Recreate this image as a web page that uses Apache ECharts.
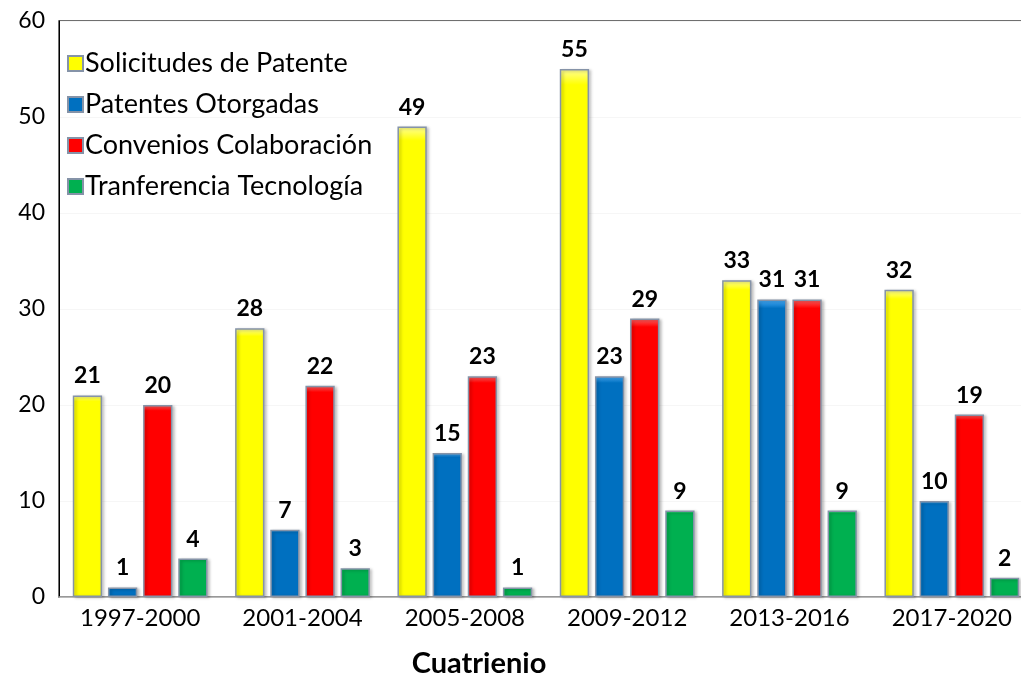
<!DOCTYPE html>
<html>
<head>
<meta charset="utf-8">
<script src="https://cdn.jsdelivr.net/npm/echarts@6/dist/echarts.min.js"></script>
<style>
  html, body { margin: 0; padding: 0; background: #fff; overflow: hidden; }
  #chart { width: 1033px; height: 683px; }
</style>
</head>
<body>
<div id="chart"></div>
<script>
// datos
const cuatrienios = ["1997-2000", "2001-2004", "2005-2008", "2009-2012", "2013-2016", "2017-2020"];
const solicitudes = [21, 28, 49, 55, 33, 32];
const otorgadas = [1, 7, 15, 23, 31, 10];
const convenios = [20, 22, 23, 29, 31, 19];
const transferencia = [4, 3, 1, 9, 9, 2];
const yTicks = [0, 10, 20, 30, 40, 50, 60];

const chart = echarts.init(document.getElementById("chart"));

const barStyle = (top, base) => ({
  color: new echarts.graphic.LinearGradient(0, 0, 0, 1, [
    { offset: 0, color: top },
    { offset: 0.03, color: base },
    { offset: 1, color: base },
  ]),
  borderColor: "#8593a8",
  borderWidth: 1.5,
  shadowColor: "rgba(0,0,0,0.25)",
  shadowBlur: 3,
  shadowOffsetX: 2,
  shadowOffsetY: 1,
});

const makeSeries = (name, data, top, base) => ({
  name: name,
  type: "bar",
  data: data,
  barGap: "20%",
  barCategoryGap: "17%",
  itemStyle: barStyle(top, base),
  label: {
    show: true,
    position: "top",
    distance: 8,
    color: "#000",
    fontFamily: "Lato",
    fontWeight: "bold",
    fontSize: 23,
  },
});

const options = {
  animation: false,
  backgroundColor: "#fff",
  textStyle: { fontFamily: "Lato" },
  title: {
    text: "Cuatrienio",
    left: 474,
    top: 644,
    textAlign: "center",
    textStyle: {
      fontFamily: "Lato",
      fontWeight: "bold",
      fontSize: 29,
      color: "#000",
    },
  },
  legend: {
    orient: "vertical",
    left: 62,
    top: 45,
    itemWidth: 15,
    itemHeight: 15,
    itemGap: 14,
    icon: "rect",
    textStyle: {
      fontFamily: "Lato",
      fontSize: 27,
      color: "#000",
      padding: [0, 0, 0, -3],
    },
  },
  grid: {
    left: 59,
    top: 21,
    right: 0,
    bottom: 86,
    show: true,
    borderColor: "#404040",
    borderWidth: 1.5,
  },
  xAxis: {
    type: "category",
    data: cuatrienios,
    axisLine: { lineStyle: { color: "#a6a6a6", width: 1.5 } },
    axisTick: { show: false },
    axisLabel: {
      color: "#000",
      fontFamily: "Lato",
      fontSize: 24,
      margin: 9,
    },
  },
  yAxis: {
    type: "value",
    min: yTicks[0],
    max: yTicks[yTicks.length - 1],
    interval: 10,
    axisLine: { show: true, lineStyle: { color: "#000", width: 1 } },
    axisTick: { show: false },
    splitLine: { lineStyle: { color: "#f6f6f6" } },
    axisLabel: {
      color: "#000",
      fontFamily: "Lato",
      fontSize: 23,
      margin: 14,
    },
  },
  series: [
    makeSeries("Solicitudes de Patente", solicitudes, "#ffff99", "#ffff00"),
    makeSeries("Patentes Otorgadas", otorgadas, "#4fb3ff", "#0070c0"),
    makeSeries("Convenios Colaboración", convenios, "#ff6666", "#ff0000"),
    makeSeries("Tranferencia Tecnología", transferencia, "#66f0a0", "#00b050"),
  ],
};

chart.setOption(options);
window.addEventListener("resize", () => {
  chart.resize();
});
</script>
</body>
</html>
